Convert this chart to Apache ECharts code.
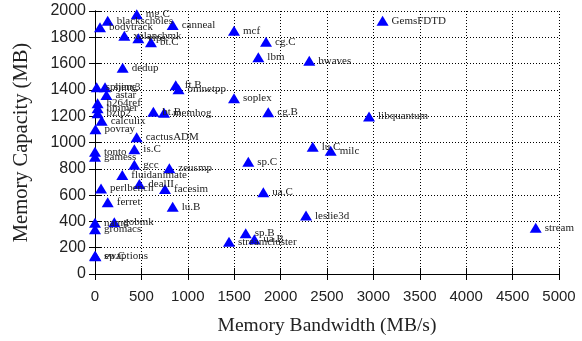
<!DOCTYPE html>
<html>
<head>
<meta charset="utf-8">
<script src="https://cdn.jsdelivr.net/npm/echarts@6/dist/echarts.min.js"></script>
<style>
html,body{margin:0;padding:0;background:#fff;}
#chart{width:582px;height:341px;}
</style>
</head>
<body>
<div id="chart"></div>
<script>
var names = ["mg.C","blackscholes","bodytrack","canneal","mcf","cg.C","lbm","xalancbmk","vips","bt.C","dedup",
  "sphinx3","sjeng","astar","ft.B","omnetpp","soplex","h264ref","hmmer","bzip2","bt.B","memhog","cg.B","libquantum",
  "calculix","povray","cactusADM","is.C","tonto","gamess","sp.C","gcc","zeusmp","fluidanimate","dealII","perlbench",
  "facesim","ua.C","ferret","lu.B","leslie3d","stream","gobmk","namd","gromacs","sp.B","ua.B","streamcluster",
  "swaptions","ep.C","GemsFDTD","bwaves","lu.C","milc"];
var bandwidth = [450,137,54,837,1498,1843,1760,316,467,603,298,
  18,108,123,870,900,1498,28,28,28,629,744,1867,2953,
  72,5,449,424,0,0,1652,424,801,294,478,65,
  754,1814,137,837,2274,4749,208,0,0,1624,1717,1444,
  0,5,3099,2309,2346,2540];
var capacity = [1975,1926,1876,1893,1850,1767,1648,1812,1792,1762,1569,
  1420,1420,1361,1435,1405,1336,1298,1260,1222,1234,1227,1230,1197,
  1166,1100,1040,948,930,892,854,831,804,753,684,651,
  646,621,545,512,444,352,393,390,340,309,264,246,
  139,135,1926,1622,968,938];
var xTicks = [0,500,1000,1500,2000,2500,3000,3500,4000,4500,5000];
var yTicks = [0,200,400,600,800,1000,1200,1400,1600,1800,2000];

var pts = names.map(function(n,i){ return {name:n, value:[bandwidth[i], capacity[i]]}; });
var chart = echarts.init(document.getElementById('chart'), null, {renderer:'canvas'});
var lineStyleBlack = {color:'#000', width:1};
function plain(v){ return String(v); }
chart.setOption({
  animation:false,
  backgroundColor:'#fff',
  grid:{left:95, right:23, top:11, bottom:67},
  xAxis:[{
    type:'value', min:xTicks[0], max:xTicks[xTicks.length-1], interval:500,
    name:'Memory Bandwidth (MB/s)', nameLocation:'middle', nameGap:42,
    nameTextStyle:{fontFamily:'Liberation Serif', fontSize:19.5, color:'#222'},
    axisLine:{show:true, lineStyle:lineStyleBlack},
    axisTick:{show:true, inside:true, length:6, lineStyle:lineStyleBlack},
    axisLabel:{margin:15, formatter:plain, fontFamily:'Liberation Sans', fontSize:15, color:'#222'},
    splitLine:{show:true, lineStyle:{color:'#000', type:[1,2], width:1}}
  },{
    type:'value', position:'top', min:xTicks[0], max:xTicks[xTicks.length-1], interval:500,
    axisLine:{show:true, lineStyle:lineStyleBlack},
    axisTick:{show:true, inside:true, length:6, lineStyle:lineStyleBlack},
    axisLabel:{show:false}, splitLine:{show:false}
  }],
  yAxis:[{
    type:'value', min:yTicks[0], max:yTicks[yTicks.length-1], interval:200,
    name:'Memory Capacity (MB)', nameLocation:'middle', nameGap:63,
    nameTextStyle:{fontFamily:'Liberation Serif', fontSize:20.5, color:'#222'},
    axisLine:{show:true, lineStyle:lineStyleBlack},
    axisTick:{show:true, inside:true, length:6, lineStyle:lineStyleBlack},
    axisLabel:{margin:9, formatter:plain, fontFamily:'Liberation Sans', fontSize:16, color:'#222'},
    splitLine:{show:true, lineStyle:{color:'#000', type:[1,2], width:1}}
  },{
    type:'value', position:'right', min:yTicks[0], max:yTicks[yTicks.length-1], interval:200,
    axisLine:{show:true, lineStyle:lineStyleBlack},
    axisTick:{show:true, inside:true, length:6, lineStyle:lineStyleBlack},
    axisLabel:{show:false}, splitLine:{show:false}
  }],
  series:[{
    type:'scatter', clip:false,
    symbol:'triangle', symbolSize:[12,10],
    itemStyle:{color:'#0000ff', opacity:1},
    label:{show:true, position:'right', distance:3, formatter:'{b}',
      fontFamily:'Liberation Serif', fontSize:11, color:'#222'},
    labelLayout:{hideOverlap:false},
    data:pts
  }]
});
</script>
</body>
</html>
